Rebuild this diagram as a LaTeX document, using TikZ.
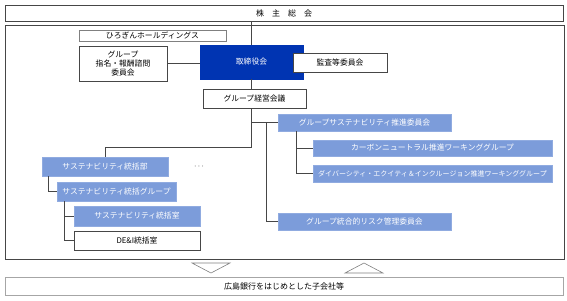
\documentclass[tikz,border=0pt]{standalone}
\usepackage{fontspec}
\newfontfamily\jpfont{Noto Sans CJK JP}
\usepackage{tikz}

\definecolor{boardblue}{RGB}{0,52,178}
\definecolor{susblue}{RGB}{124,156,218}
\definecolor{edgegray}{RGB}{70,70,70}

\tikzset{
  box/.style={draw=edgegray,fill=white,inner sep=0pt,line width=0.6pt,
    font=\jpfont\fontsize{7.8}{9}\selectfont,align=center},
  bluebox/.style={box,draw=susblue!85!white,fill=susblue,text=white},
  wide/.style={box,draw=gray!70,minimum width=558pt,font=\jpfont\fontsize{8}{9}\selectfont}
}

\begin{document}
\begin{tikzpicture}[
      x=1pt,y=-1pt,
      line width=0.6pt,
      draw=edgegray
    ]
    \useasboundingbox (0,0) rectangle (567,300);
    \draw[edgegray] (5,25) rectangle (564,259);
    \node (top) [wide,draw=edgegray,minimum height=16pt] at (284,13) {株\hspace{1em}主\hspace{1em}総\hspace{1em}会};
    \node (bottom) [wide,minimum height=18pt] at (284,286) {広島銀行をはじめとした子会社等};
    \node (hd) [box,draw=gray,minimum width=147pt,minimum height=11pt] at (152.5,35.5) {ひろぎんホールディングス};
    \node (nom) [box,minimum width=88pt,minimum height=35pt] at (123,63.5) {グループ\\指名・報酬諮問\\委員会};
    \node (board) [box,draw=boardblue,fill=boardblue,text=white,minimum width=103pt,minimum height=34pt] at (251.5,62) {取締役会};
    \node (audit) [box,minimum width=94pt,minimum height=19pt] at (340,62.5) {監査等委員会};
    \node (mgmt) [box,minimum width=103pt,minimum height=19pt] at (254.5,98.5) {グループ経営会議};
    \node (sus) [bluebox,minimum width=173pt,minimum height=17pt] at (364.5,122.5) {グループサステナビリティ推進委員会};
    \node (cn) [bluebox,minimum width=239pt,minimum height=16pt] at (432.5,148) {カーボンニュートラル推進ワーキンググループ};
    \node (dei) [bluebox,minimum width=239pt,minimum height=17pt,font=\jpfont\fontsize{7}{8}\selectfont] at (432.5,173.5) {ダイバーシティ・エクイティ＆インクルージョン推進ワーキンググループ};
    \node (risk) [bluebox,minimum width=173pt,minimum height=17pt] at (364.5,221.5) {グループ統合的リスク管理委員会};
    \node (sd) [bluebox,minimum width=126pt,minimum height=19pt] at (105,166.5) {サステナビリティ統括部};
    \node (dots) [font=\fontsize{8}{8}\selectfont] at (199,167) {$\cdots$};
    \node (sg) [bluebox,minimum width=119pt,minimum height=19pt] at (116.5,191.5) {サステナビリティ統括グループ};
    \node (so) [bluebox,minimum width=126pt,minimum height=20pt] at (137,216) {サステナビリティ統括室};
    \node (off) [box,minimum width=126pt,minimum height=19pt] at (137,240.5) {DE\&I統括室};
    \draw (board.north) -- (board.north |- top.south);
    \draw (nom.east) -- (nom.east -| board.west);
    \draw (board.south) -- (board.south |- mgmt.north);
    \draw (board.south |- mgmt.south) -- ++(0,39) -| (sd.north);
    \draw (board.south |- sus.west) -- (sus.west);
    \draw (sus.west) ++(-11,0) |- (risk.west);
    \draw (sus.south west) ++(19,0) |- (cn.west);
    \draw (sus.south west) ++(19,0) |- (dei.west);
    \draw (sd.south west) ++(7,0) |- (sg.west);
    \draw (sg.south west) ++(8,0) |- (so.west);
    \draw (sg.south west) ++(8,0) |- (off.west);
    \draw[gray] (192,263) -- (230,263) -- (211,273) -- cycle;
    \draw[gray] (345,273) -- (383,273) -- (364,263) -- cycle;
  \end{tikzpicture}
\end{document}
